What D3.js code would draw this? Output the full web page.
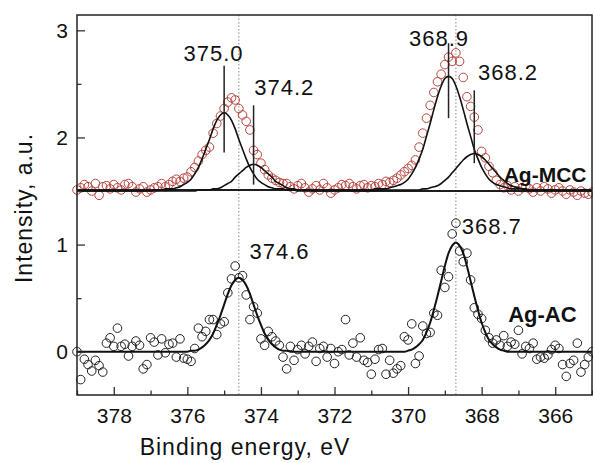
<!DOCTYPE html>
<html>
<head>
<meta charset="utf-8">
<script src="https://cdn.jsdelivr.net/npm/d3@7"></script>
<style>
  body { margin: 0; background: #fff; }
  text { font-family: Arial, "Liberation Sans", sans-serif; fill: #111; }
</style>
</head>
<body>
<div id="chart"></div>
<script>
// spectra are sampled from 379 eV down to 365 eV every 0.1 eV
const scanStart = 379
const scanStep = 0.1

// Ag-MCC measured points
const mccPoints = [1.51,1.53,1.56,1.54,1.50,1.57,1.46,1.54,1.55,1.52,
  1.56,1.53,1.51,1.56,1.57,1.54,1.49,1.52,1.54,1.49,
  1.51,1.53,1.54,1.57,1.54,1.56,1.59,1.61,1.59,1.62,
  1.63,1.68,1.72,1.78,1.84,1.88,1.91,2.04,2.13,2.20,
  2.27,2.33,2.37,2.35,2.27,2.21,2.15,2.07,1.88,1.84,
  1.76,1.70,1.65,1.62,1.60,1.58,1.57,1.57,1.54,1.52,
  1.55,1.57,1.53,1.49,1.52,1.55,1.51,1.57,1.53,1.48,
  1.51,1.53,1.56,1.55,1.57,1.54,1.52,1.55,1.56,1.53,
  1.55,1.54,1.57,1.56,1.59,1.58,1.60,1.62,1.65,1.68,
  1.71,1.74,1.79,1.91,2.04,2.18,2.30,2.42,2.52,2.59,
  2.68,2.75,2.71,2.79,2.71,2.56,2.38,2.29,2.19,2.07,
  1.87,1.81,1.73,1.67,1.60,1.56,1.53,1.55,1.51,1.54,
  1.50,1.53,1.55,1.52,1.49,1.53,1.50,1.54,1.52,1.48,
  1.51,1.53,1.50,1.47,1.51,1.49,1.46,1.50,1.48,1.47,
  1.49]

// Ag-AC measured points
const acPoints = [0.00,-0.26,-0.07,-0.12,-0.18,-0.08,-0.13,-0.19,0.08,0.13,
  0.05,0.22,0.05,0.07,-0.04,0.05,0.10,0.06,-0.16,-0.12,
  0.13,0.09,-0.03,0.12,-0.01,0.07,0.08,-0.05,0.12,-0.06,
  -0.07,-0.09,0.03,0.22,0.14,0.19,0.30,0.30,0.16,0.26,
  0.28,0.55,0.68,0.80,0.69,0.71,0.53,0.30,0.42,0.36,
  0.12,0.06,0.19,0.14,0.10,0.06,-0.05,-0.16,0.05,-0.08,
  0.02,0.06,-0.02,0.05,0.09,-0.09,0.03,0.05,-0.05,0.03,
  -0.11,0.00,0.02,0.30,-0.03,0.08,-0.05,0.13,-0.08,-0.10,
  -0.21,-0.07,0.02,0.03,-0.21,-0.08,-0.20,-0.16,-0.13,0.14,
  0.11,0.26,-0.11,-0.04,0.24,0.17,0.18,0.36,0.34,0.76,
  0.60,0.70,1.10,1.20,0.94,0.84,0.92,0.67,0.41,0.35,
  0.31,0.20,0.13,0.08,0.11,0.06,0.15,0.05,0.09,0.07,
  0.20,-0.02,0.05,0.03,0.08,-0.07,-0.05,-0.06,-0.03,0.02,
  0.06,0.03,-0.12,-0.23,-0.11,-0.08,0.08,-0.19,-0.12,-0.05,
  0.00]

// fitted components: first energy of each window, then values every 0.1 eV
const mccFitStarts = [377.0, 376.0, 371.0, 370.0]
const mccFit375 = [1.50,1.51,1.51,1.51,1.52,1.52,1.52,1.53,1.54,1.56,
  1.58,1.61,1.66,1.72,1.80,1.89,1.98,2.08,2.16,2.21,2.23,
  2.21,2.16,2.08,1.98,1.89,1.80,1.72,1.66,1.61,1.58,
  1.56,1.54,1.53,1.52,1.52,1.52,1.51,1.51,1.51,1.50]
const mccFit374 = [1.50,1.50,1.50,1.51,1.51,1.51,1.51,1.52,1.52,1.53,
  1.55,1.57,1.59,1.63,1.66,1.69,1.72,1.74,1.75,
  1.74,1.72,1.69,1.66,1.63,1.59,1.57,1.55,1.53,1.52,
  1.52,1.51,1.51,1.51,1.51,1.50,1.50,1.50]
const mccFit369 = [1.51,1.52,1.52,1.52,1.52,1.53,1.54,1.55,1.56,1.58,
  1.61,1.66,1.72,1.80,1.89,2.01,2.13,2.26,2.38,2.48,2.55,2.57,
  2.55,2.48,2.38,2.26,2.13,2.01,1.89,1.80,1.72,1.66,
  1.61,1.58,1.56,1.55,1.54,1.53,1.52,1.52,1.52,1.52,1.51]
const mccFit368 = [1.51,1.51,1.51,1.51,1.52,1.52,1.53,1.54,1.55,1.57,
  1.60,1.63,1.67,1.71,1.75,1.79,1.82,1.84,1.85,
  1.84,1.82,1.79,1.75,1.71,1.67,1.63,1.60,1.57,1.55,
  1.54,1.53,1.52,1.52,1.51,1.51,1.51,1.51]

const acFitStarts = [376.0, 370.1]
const acFit3746 = [0.00,0.01,0.01,0.02,0.04,0.07,0.11,0.17,0.25,0.34,
  0.44,0.54,0.62,0.67,0.69,0.67,0.62,0.54,0.44,0.34,
  0.25,0.17,0.11,0.07,0.04,0.02,0.01,0.01,0.00]
const acFit3687 = [0.00,0.01,0.02,0.04,0.07,0.11,0.18,0.27,0.39,0.52,
  0.66,0.80,0.92,0.99,1.02,0.99,0.92,0.80,0.66,0.52,
  0.39,0.27,0.18,0.11,0.07,0.04,0.02,0.01,0.00]

// peak markers (energy, top and bottom of the tick line) and labels
const mccPeakEnergy = [375.0, 374.2, 368.9, 368.2]
const mccPeakTop = [2.67, 2.30, 2.88, 2.44]
const mccPeakBottom = [1.86, 1.56, 2.18, 1.76]
const mccPeakLabels = ["375.0", "374.2", "368.9", "368.2"]
const acPeakEnergy = [374.6, 368.7]
const acPeakLabels = ["374.6", "368.7"]

const xMajor = [378, 376, 374, 372, 370, 368, 366]
const xMinor = [379, 377, 375, 373, 371, 369, 367, 365]
const yMajor = [0, 1, 2, 3]
const yMinor = [0.5, 1.5, 2.5]

const margin = {top: 15, right: 1, bottom: 68, left: 77},
      width = 593 - margin.left - margin.right,
      height = 463 - margin.top - margin.bottom;

const svg = d3.select("#chart")
  .append("svg")
  .attr("width", width + margin.left + margin.right)
  .attr("height", height + margin.top + margin.bottom)
  .append("g")
  .attr("transform", `translate(${margin.left}, ${margin.top})`);

const x = d3.scaleLinear().domain([379, 365]).range([0, width])
const y = d3.scaleLinear().domain([-0.404, 3.143]).range([height, 0])

const energyAt = (start, i) => +(start - i * scanStep).toFixed(2)

// dotted guides at the Ag-AC peaks
svg.selectAll(".guide")
  .data(acPeakEnergy)
  .join("line")
    .attr("x1", d => x(d)).attr("x2", d => x(d))
    .attr("y1", 0).attr("y2", height)
    .attr("stroke", "#888")
    .attr("stroke-width", 1)
    .attr("stroke-dasharray", "1.5,2")

// points
svg.append("g")
  .selectAll("circle")
  .data(mccPoints)
  .join("circle")
    .attr("cx", (d, i) => x(energyAt(scanStart, i)))
    .attr("cy", d => y(d))
    .attr("r", 4.3)
    .attr("fill", "none")
    .attr("stroke", "#b9453f")
    .attr("stroke-width", 1)

svg.append("g")
  .selectAll("circle")
  .data(acPoints)
  .join("circle")
    .attr("cx", (d, i) => x(energyAt(scanStart, i)))
    .attr("cy", d => y(d))
    .attr("r", 4.3)
    .attr("fill", "none")
    .attr("stroke", "#222")
    .attr("stroke-width", 1)

// fit curves across the whole scan
const line = d3.line()
  .x(d => x(d[0]))
  .y(d => y(d[1]))
  .curve(d3.curveMonotoneX)

function fitPoints(windows) {
  const pts = [[379, windows[0][1][0]]]
  windows.forEach(([start, vals]) => {
    vals.forEach((v, i) => pts.push([energyAt(start, i), v]))
  })
  const lastVals = windows[windows.length - 1][1]
  pts.push([365, lastVals[lastVals.length - 1]])
  return pts
}

const mccFits = [mccFit375, mccFit374, mccFit369, mccFit368]
mccFits.forEach((vals, k) => {
  svg.append("path")
    .attr("d", line(fitPoints([[mccFitStarts[k], vals]])))
    .attr("fill", "none")
    .attr("stroke", "#111")
    .attr("stroke-width", 1.6)
})

svg.append("path")
  .attr("d", line(fitPoints([[acFitStarts[0], acFit3746], [acFitStarts[1], acFit3687]])))
  .attr("fill", "none")
  .attr("stroke", "#111")
  .attr("stroke-width", 2)

// peak tick lines
svg.selectAll(".peak")
  .data(mccPeakEnergy)
  .join("line")
    .attr("x1", d => x(d)).attr("x2", d => x(d))
    .attr("y1", (d, i) => y(mccPeakTop[i]))
    .attr("y2", (d, i) => y(mccPeakBottom[i]))
    .attr("stroke", "#222")
    .attr("stroke-width", 1.5)

// peak labels
const labelSpots = [
  {e: 375.29, v: 2.71, a: "middle"},
  {e: 374.18, v: 2.40, a: "start"},
  {e: 369.16, v: 2.85, a: "middle"},
  {e: 368.10, v: 2.54, a: "start"}
]
mccPeakLabels.forEach((t, i) => {
  svg.append("text")
    .attr("x", x(labelSpots[i].e)).attr("y", y(labelSpots[i].v))
    .attr("text-anchor", labelSpots[i].a)
    .style("font-size", "22px").style("letter-spacing", "1px")
    .text(t)
})
const acLabelSpots = [{e: 374.31, v: 0.865}, {e: 368.54, v: 1.095}]
acPeakLabels.forEach((t, i) => {
  svg.append("text")
    .attr("x", x(acLabelSpots[i].e)).attr("y", y(acLabelSpots[i].v))
    .style("font-size", "22px").style("letter-spacing", "1px")
    .text(t)
})

// sample names
svg.append("text")
  .attr("x", x(367.4)).attr("y", y(1.58))
  .style("font-size", "21px").style("font-weight", "bold")
  .text("Ag-MCC")
svg.append("text")
  .attr("x", x(367.28)).attr("y", y(0.28))
  .style("font-size", "22px").style("font-weight", "bold")
  .text("Ag-AC")

// axes with inward ticks
svg.append("g")
  .attr("transform", `translate(0, ${height})`)
  .call(d3.axisBottom(x).tickValues(xMajor).tickSize(-8).tickPadding(13).tickFormat(d3.format("d")))
svg.append("g")
  .attr("transform", `translate(0, ${height})`)
  .call(d3.axisBottom(x).tickValues(xMinor).tickSize(-4.5).tickFormat(""))

svg.append("g")
  .call(d3.axisLeft(y).tickValues(yMajor).tickSize(-8).tickPadding(9).tickFormat(d3.format("d")))
svg.append("g")
  .call(d3.axisLeft(y).tickValues(yMinor).tickSize(-4.5).tickFormat(""))

svg.selectAll(".domain").remove()
svg.selectAll(".tick line").attr("stroke", "#333").attr("stroke-width", 1.3)
svg.selectAll(".tick text")
  .style("font-size", "21px")
  .attr("fill", "#111")

svg.append("rect")
  .attr("width", width).attr("height", height)
  .attr("fill", "none")
  .attr("stroke", "#222")
  .attr("stroke-width", 1.5)

// axis titles
svg.append("text")
  .attr("x", 245 - margin.left)
  .attr("y", height + 60)
  .attr("text-anchor", "middle")
  .style("font-size", "23px").style("letter-spacing", "1px")
  .text("Binding energy, eV")

svg.append("text")
  .attr("transform", `translate(${32 - margin.left}, ${208 - margin.top}) rotate(-90)`)
  .attr("text-anchor", "middle")
  .style("font-size", "23px").style("letter-spacing", "1px")
  .text("Intensity, a.u.")
</script>
</body>
</html>
